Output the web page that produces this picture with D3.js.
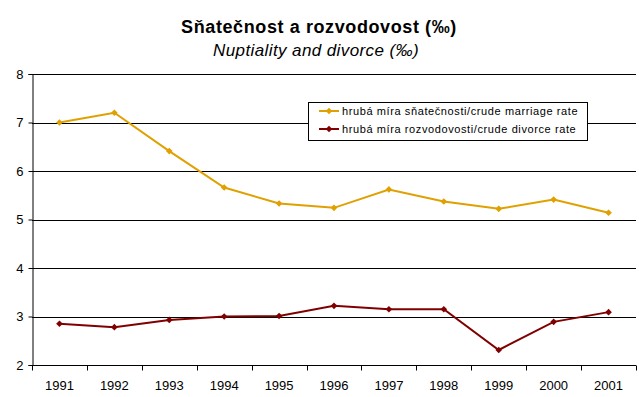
<!DOCTYPE html>
<html>
<head>
<meta charset="utf-8">
<script src="https://cdn.jsdelivr.net/npm/d3@7"></script>
<style>
body { margin: 0; background: #fff; }
svg text { font-family: "Liberation Sans", Arial, sans-serif; }
</style>
</head>
<body>
<svg id="chart"></svg>
<script>
const WIDTH = 639;
const HEIGHT = 397;
// Data
const years = ["1991", "1992", "1993", "1994", "1995", "1996", "1997", "1998", "1999", "2000", "2001"];
const marriageRate = [7.0, 7.2, 6.41, 5.66, 5.33, 5.24, 5.62, 5.37, 5.22, 5.41, 5.14];
const divorceRate = [2.85, 2.78, 2.93, 3.0, 3.01, 3.22, 3.15, 3.15, 2.31, 2.89, 3.09];
const yTicks = [2, 3, 4, 5, 6, 7, 8];
const seriesNames = ["hrubá míra sňatečnosti/crude marriage rate", "hrubá míra rozvodovosti/crude divorce rate"];
const seriesColors = ["#e0a000", "#800000"];

const margin = { left: 32, right: 3, top: 74, bottom: 32 };
const svg = d3.select("#chart").attr("width", WIDTH).attr("height", HEIGHT);

const x = d3.scaleBand().domain(years).range([margin.left, WIDTH - margin.right]);
const y = d3.scaleLinear().domain([2, 8]).range([HEIGHT - margin.bottom, margin.top]);

// Title
svg.append("text")
    .attr("x", 319).attr("y", 33)
    .attr("text-anchor", "middle")
    .style("font-size", "18px").style("font-weight", "bold")
    .style("letter-spacing", "0.6px")
    .text("Sňatečnost a rozvodovost (‰)");
svg.append("text")
    .attr("x", 316).attr("y", 56)
    .attr("text-anchor", "middle")
    .style("font-size", "17px").style("font-style", "italic")
    .style("letter-spacing", "0.4px")
    .text("Nuptiality and divorce (‰)");

// Gridlines
svg.append("g")
    .selectAll("line")
    .data(yTicks)
    .enter()
    .append("line")
    .attr("x1", margin.left).attr("x2", WIDTH - margin.right)
    .attr("y1", (d) => Math.round(y(d)) + 0.5)
    .attr("y2", (d) => Math.round(y(d)) + 0.5)
    .attr("stroke", "#000")
    .attr("stroke-width", 1);

// Y axis
const yAxis = svg.append("g")
    .attr("transform", "translate(" + (margin.left + 0.5) + ",0)")
    .call(d3.axisLeft(y).tickValues(yTicks).tickSize(4).tickPadding(5).tickFormat(d3.format("d")));
yAxis.selectAll("text").style("font-size", "13px").attr("fill", "#000");
yAxis.selectAll("line").attr("stroke", "#000");
yAxis.select(".domain").attr("stroke", "#000");

// X axis with ticks at category boundaries
const xAxisY = Math.round(y(2)) + 0.5;
const xAxis = svg.append("g");
xAxis.append("line")
    .attr("x1", margin.left).attr("x2", WIDTH - margin.right)
    .attr("y1", xAxisY).attr("y2", xAxisY)
    .attr("stroke", "#000");
xAxis.selectAll("line.tick")
    .data(years.concat(["end"]))
    .enter()
    .append("line")
    .attr("class", "tick")
    .attr("x1", (d, i) => Math.round(margin.left + i * x.step()) + 0.5)
    .attr("x2", (d, i) => Math.round(margin.left + i * x.step()) + 0.5)
    .attr("y1", xAxisY).attr("y2", xAxisY + 5)
    .attr("stroke", "#000");
xAxis.selectAll("text")
    .data(years)
    .enter()
    .append("text")
    .attr("x", (d) => x(d) + x.bandwidth() / 2)
    .attr("y", 390)
    .attr("text-anchor", "middle")
    .style("font-size", "13px")
    .text((d) => d);

// Lines
const line = d3.line()
    .x((d, i) => x(years[i]) + x.bandwidth() / 2)
    .y((d) => y(d));
// square rotated 45deg -> even diamond like the Excel marker
const diamond = d3.symbol().type(d3.symbolSquare).size(22);

[marriageRate, divorceRate].forEach((values, s) => {
    const g = svg.append("g");
    g.append("path")
        .datum(values)
        .attr("d", line)
        .attr("fill", "none")
        .attr("stroke", seriesColors[s])
        .attr("stroke-width", 2);
    g.selectAll("path.marker")
        .data(values)
        .enter()
        .append("path")
        .attr("class", "marker")
        .attr("d", diamond)
        .attr("transform", (d, i) => "translate(" + (x(years[i]) + x.bandwidth() / 2) + "," + y(d) + ") rotate(45)")
        .attr("fill", seriesColors[s]);
});

// Legend
const legend = svg.append("g");
legend.append("rect")
    .attr("x", 308.5).attr("y", 102.5)
    .attr("width", 279).attr("height", 38)
    .attr("fill", "#fff").attr("stroke", "#000");
seriesNames.forEach((name, i) => {
    const ly = 111 + i * 18;
    legend.append("line")
        .attr("x1", 319).attr("x2", 339)
        .attr("y1", ly).attr("y2", ly)
        .attr("stroke", seriesColors[i]).attr("stroke-width", 2);
    legend.append("path")
        .attr("d", diamond)
        .attr("transform", "translate(329," + ly + ") rotate(45)")
        .attr("fill", seriesColors[i]);
    legend.append("text")
        .attr("x", 342).attr("y", ly + 4)
        .style("font-size", "11px")
        .style("letter-spacing", "0.6px")
        .text(name);
});
</script>
</body>
</html>
